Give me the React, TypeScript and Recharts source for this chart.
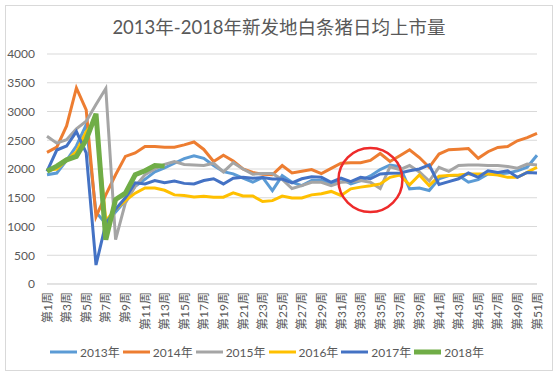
import {
  CartesianGrid,
  Legend,
  Line,
  LineChart,
  ReferenceDot,
  XAxis,
  YAxis,
} from "recharts";

const WEEKS = [
  "第1周", "第2周", "第3周", "第4周", "第5周", "第6周", "第7周", "第8周", "第9周", "第10周",
  "第11周", "第12周", "第13周", "第14周", "第15周", "第16周", "第17周", "第18周", "第19周", "第20周",
  "第21周", "第22周", "第23周", "第24周", "第25周", "第26周", "第27周", "第28周", "第29周", "第30周",
  "第31周", "第32周", "第33周", "第34周", "第35周", "第36周", "第37周", "第38周", "第39周", "第40周",
  "第41周", "第42周", "第43周", "第44周", "第45周", "第46周", "第47周", "第48周", "第49周", "第50周",
  "第51周",
];

const Y2013 = [
  1900, 1930, 2150, 2400, 2770, 1250, 1050, 1250, 1450, 1700,
  1820, 1950, 2020, 2100, 2180, 2230, 2185, 2060, 1955, 1915,
  1840, 1770, 1855, 1625, 1885, 1770, 1710, 1800, 1800, 1740,
  1830, 1740, 1800, 1880, 1990, 2070, 2040, 1655, 1670, 1625,
  1830, 1885, 1885, 1770, 1815, 1915, 1915, 1930, 1970, 2030,
  2240,
];
const Y2014 = [
  2290, 2380, 2750, 3410, 3030, 1170, 1550, 1900, 2220, 2280,
  2390, 2390, 2380, 2380, 2420, 2470, 2340, 2130, 2240, 2140,
  2000, 1940, 1910, 1900, 2060, 1930, 1960, 1990, 1920, 2010,
  2100, 2110, 2110, 2150, 2270, 2130, 2230, 2335, 2200, 2030,
  2260, 2335, 2345, 2355, 2185, 2300, 2375, 2390, 2490, 2545,
  2620,
];
const Y2015 = [
  2570, 2450, 2510, 2700, 2830, 3120, 3400, 770, 1410, 1700,
  1900, 2000, 2080, 2130, 2080, 2070, 2060, 2100, 1950, 2110,
  2000, 1910, 1920, 1920, 1820, 1660, 1710, 1770, 1770, 1710,
  1770, 1780, 1800, 1770, 1660, 2040, 1990, 2060, 1950, 1790,
  2030, 1960, 2060, 2070, 2070, 2060, 2060, 2045, 2015, 2085,
  2070,
];
const Y2016 = [
  1980, 2000, 2150, 2300, 2650, 2850, 1100, 1300, 1450, 1580,
  1670, 1670, 1630, 1550, 1540, 1515, 1525, 1510, 1510, 1585,
  1530, 1530, 1435, 1450, 1530, 1495, 1495, 1550, 1570, 1610,
  1540, 1655, 1685, 1710, 1740, 1855, 1895, 1725, 1895, 1710,
  1875, 1885, 1895, 1915, 1915, 1915, 1895, 1855, 1855, 1940,
  2030,
];
const Y2017 = [
  1960, 2330, 2400, 2650, 2280, 330, 1050, 1300, 1500, 1760,
  1740, 1800, 1760, 1790, 1750, 1740, 1800, 1830, 1740, 1840,
  1855, 1840, 1850, 1825, 1825, 1760, 1830, 1865, 1855, 1770,
  1840, 1780, 1855, 1830, 1915, 1925, 1930, 1970, 2000, 2070,
  1730, 1780, 1830, 1930, 1855, 1970, 1940, 1970, 1855, 1940,
  1930,
];
const Y2018 = [1960, 2050, 2160, 2220, 2510, 2960, 770, 1470, 1580, 1900, 1970, 2060, 2050];

const Y_TICKS = [0, 500, 1000, 1500, 2000, 2500, 3000, 3500, 4000];

const SERIES = [
  { key: "y2013", name: "2013年", color: "#5b9bd5", width: 3 },
  { key: "y2014", name: "2014年", color: "#ed7d31", width: 3 },
  { key: "y2015", name: "2015年", color: "#a5a5a5", width: 3 },
  { key: "y2016", name: "2016年", color: "#ffc000", width: 3 },
  { key: "y2017", name: "2017年", color: "#4472c4", width: 3 },
  { key: "y2018", name: "2018年", color: "#70ad47", width: 5 },
];

const data = WEEKS.map((week, i) => ({
  week,
  y2013: Y2013[i],
  y2014: Y2014[i],
  y2015: Y2015[i],
  y2016: Y2016[i],
  y2017: Y2017[i],
  y2018: i < Y2018.length ? Y2018[i] : null,
}));

const FONT = "Lato, 'Noto Sans CJK SC', sans-serif";
const GREY = "#595959";

function WeekTick({ x, y, payload }: any) {
  return (
    <text
      transform={`translate(${x},${y}) rotate(-90)`}
      textAnchor="end"
      dominantBaseline="central"
      fontSize={12}
      fontFamily={FONT}
      fill={GREY}
    >
      {payload.value}
    </text>
  );
}

function LegendRow({ payload }: any) {
  return (
    <div style={{ display: "flex", justifyContent: "center", alignItems: "center", paddingTop: 3 }}>
      {(payload || []).map((p: any) => (
        <div key={p.value} style={{ display: "flex", alignItems: "center", marginRight: 3 }}>
          <svg width={27} height={8} style={{ marginRight: 3 }}>
            <line
              x1={0}
              x2={27}
              y1={4}
              y2={4}
              stroke={p.color}
              strokeWidth={p.value === "2018年" ? 5 : 3}
            />
          </svg>
          <span style={{ color: GREY, fontSize: 12, fontFamily: FONT }}>{p.value}</span>
        </div>
      ))}
    </div>
  );
}

export default function App() {
  return (
    <div
      style={{
        position: "absolute",
        left: 0,
        top: 0,
        width: 558,
        height: 375,
        background: "#fff",
        fontFamily: FONT,
      }}
    >
      <div
        style={{
          position: "absolute",
          left: 5,
          top: 5,
          width: 546,
          height: 364,
          border: "1px solid #d9d9d9",
        }}
      />
      <div
        style={{
          position: "absolute",
          left: 0,
          top: 13,
          width: 558,
          textAlign: "center",
          fontSize: 18.5,
          color: GREY,
        }}
      >
        2013年-2018年新发地白条猪日均上市量
      </div>
      <div style={{ position: "absolute", left: 0, top: 0 }}>
        <LineChart
          width={558}
          height={375}
          data={data}
          margin={{ top: 54, right: 21, left: 0, bottom: 0 }}
        >
          <CartesianGrid stroke="#d9d9d9" vertical={false} />
          <XAxis
            dataKey="week"
            interval={1}
            tickLine={false}
            axisLine={{ stroke: "#d9d9d9" }}
            tick={<WeekTick />}
            height={56}
          />
          <YAxis
            domain={[0, 4000]}
            ticks={Y_TICKS}
            width={47}
            axisLine={false}
            tickLine={false}
            tick={{ fill: GREY, fontSize: 12, fontFamily: FONT }}
            tickMargin={6}
          />
          <Legend verticalAlign="bottom" height={35} content={<LegendRow />} />
          {SERIES.map((s) => (
            <Line
              key={s.key}
              type="linear"
              dataKey={s.key}
              name={s.name}
              stroke={s.color}
              strokeWidth={s.width}
              dot={false}
              activeDot={false}
              isAnimationActive={false}
            />
          ))}
          <ReferenceDot
            x="第34周"
            y={1810}
            r={32}
            fill="none"
            stroke="#ee2b2b"
            strokeWidth={2.5}
          />
        </LineChart>
      </div>
    </div>
  );
}
